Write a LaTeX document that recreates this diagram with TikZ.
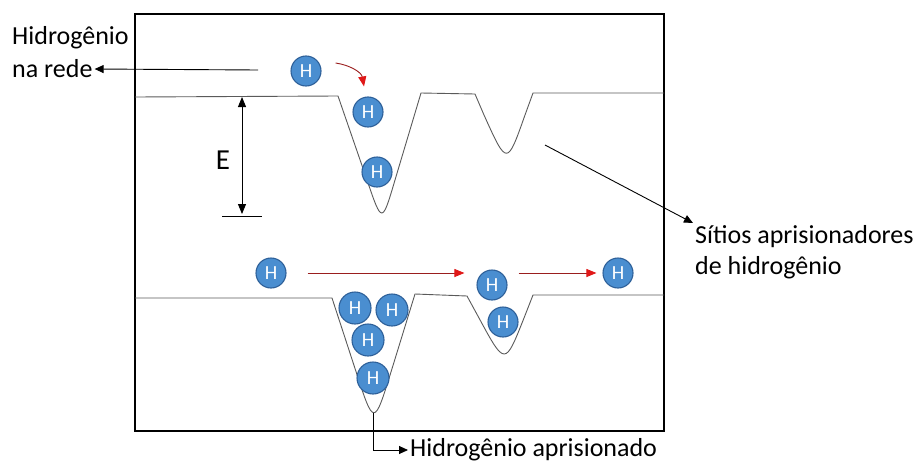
\documentclass[tikz,border=0pt]{standalone}
\usepackage{fontspec}
\setmainfont{Carlito}
\usepackage{tikz}
\usetikzlibrary{arrows.meta, calc, positioning}
\definecolor{hfill}{HTML}{4A8ED0}
\definecolor{hedge}{HTML}{2E6099}
\definecolor{level}{HTML}{5A5A5A}
\definecolor{hopline}{HTML}{9A1E1E}
\definecolor{hophead}{HTML}{E01818}

\begin{document}
\begin{tikzpicture}[
  x=1pt, y=-1pt,
  atom/.style    = {circle, draw=hedge, fill=hfill, line width=1.1pt, minimum size=30pt, inner sep=0pt, text=white, font=\fontsize{20}{20}\selectfont},
  label/.style   = {font=\fontsize{26}{31}\selectfont, align=left, inner sep=2pt},
  energy/.style  = {draw=level, line width=0.9pt, line join=round},
  arr/.style     = {-{Triangle[length=9pt,width=8pt]}, line width=0.9pt},
  dblarr/.style  = {{Triangle[length=10pt,width=8pt]}-{Triangle[length=10pt,width=8pt]}, line width=0.9pt},
  hop/.style     = {-{Triangle[length=10pt,width=8pt,color=hophead]}, draw=hopline, line width=0.9pt},
]
\useasboundingbox (0,0) rectangle (919,466);
% frame
\draw[line width=1.3pt] (135,14) rectangle (664,431);

% energy profile without traps
\draw[energy] (135,97) -- (338,96) -- (367,180) .. controls (382,224) .. (395,180)
  -- (421,93) -- (475,94) -- (484,115) .. controls (507,166) .. (525,115)
  -- (533,93) -- (664,93);
% energy profile with trapped hydrogen
\draw[energy] (135,298) -- (332,298) -- (355.5,370) .. controls (374,427) .. (391.6,370)
  -- (415,294) -- (467,296) -- (479,318) .. controls (505,366) .. (524,318)
  -- (533,295) -- (664,295);

% atoms, upper profile
\node[atom] (htop)   at (306,71)  {H};
\node[atom] (htrapa) at (368,112) {H};
\node[atom] (htrapb) at (377,172) {H};

% atoms, lower profile
\node[atom] (hfree) at (271,273) {H};
\node[atom, minimum size=32pt] (hwella) at (355,308) {H};
\node[atom, minimum size=32pt] (hwellb) at (392,310) {H};
\node[atom, minimum size=32pt] (hwellc) at (368,340) {H};
\node[atom, minimum size=32pt] (hwelld) at (373,378) {H};
\node[atom] (hhopa) at (492,285) {H};
\node[atom] (hhopb) at (503,322) {H};
\node[atom] (hout)  at (618,273) {H};

% texts
\node[label, anchor=west] (lata) at (10,38) {Hidrogênio};
\node[label, anchor=west] (latb) at (10,69) {na rede};
\node[label, anchor=north west] (sites) at (693,223) {Sítios aprisionadores\\de hidrogênio};
\node[label, anchor=west] (trapped) at (408,450) {Hidrogênio aprisionado};
\node[font=\fontsize{29}{29}\selectfont] (elabel) at (223,160) {E};

% connectors
\coordinate (latstart) at (258,70);
\draw[arr] (latstart) -- (latb.east);

\coordinate (etop) at (242,97);
\coordinate (ebot) at (242,214);
\draw[dblarr] (etop) -- (ebot);
\draw[line width=0.9pt] (222,216) -- (262,216);

\coordinate (sitestart) at (545,145);
\draw[arr] (sitestart) -- (sites.north west);

\coordinate (trapbot) at (373,413);
\draw[arr] (trapbot) |- (trapped.west);

\draw[hop] ([yshift=8pt]htop.east) ++(14,0) to[out=-8, in=100] ([shift={(-4pt,10pt)}]htrapa.north);
\draw[hop] ([xshift=21pt]hfree.east) -- ([xshift=-12pt]hfree.east -| hhopa.west);
\draw[hop] ([xshift=11pt]hhopa.east |- hout) -- ([xshift=-6pt]hout.west);
\end{tikzpicture}
\end{document}
